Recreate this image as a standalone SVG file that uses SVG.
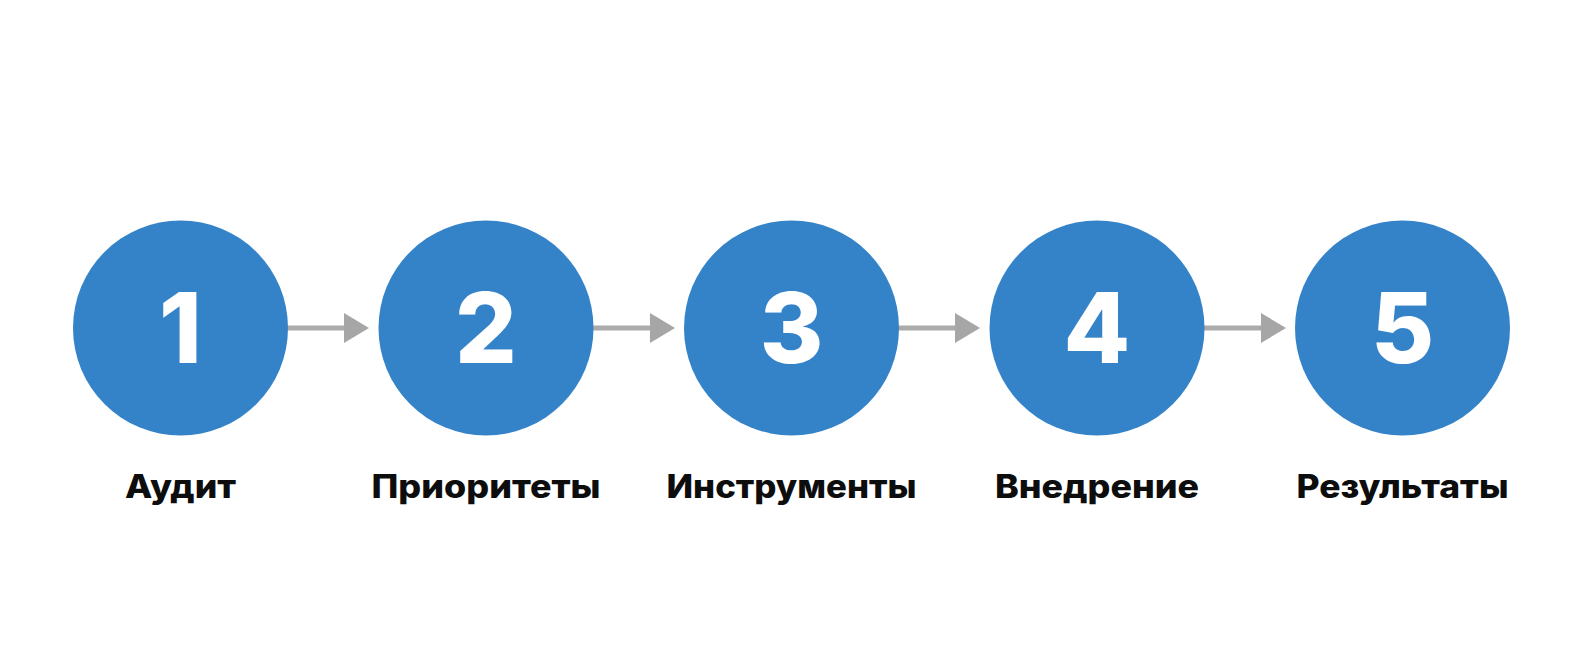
<svg xmlns="http://www.w3.org/2000/svg" width="1584" height="672" viewBox="0 0 1584 672">
<style>
.node circle{fill:#3483C9}
.num{font-family:Inter,"Liberation Sans","DejaVu Sans",sans-serif;font-weight:800;font-size:97px;fill:#fff;text-anchor:middle}
.lbl{font-family:Inter,"Liberation Sans","DejaVu Sans",sans-serif;font-weight:800;font-size:32px;fill:#0d0d0d;text-anchor:middle}
.conn line{stroke:#ababab;stroke-width:5}
.conn polygon{fill:#a6a6a6}
</style>
<rect width="1584" height="672" fill="#fff"/>
<g id="connectors" class="conn">
<line x1="287" y1="328" x2="346" y2="328"/><polygon points="344,313 369,328 344,343"/>
<line x1="593" y1="328" x2="652" y2="328"/><polygon points="650,313 675,328 650,343"/>
<line x1="898" y1="328" x2="957" y2="328"/><polygon points="955,313 980,328 955,343"/>
<line x1="1204" y1="328" x2="1263" y2="328"/><polygon points="1261,313 1286,328 1261,343"/>
</g>
<g id="node1" class="node"><circle cx="180.5" cy="328" r="107.5"/><text class="num" x="180.5" y="363">1</text><text class="lbl" x="180.5" y="498" textLength="111" lengthAdjust="spacingAndGlyphs">Аудит</text></g>
<g id="node2" class="node"><circle cx="486" cy="328" r="107.5"/><text class="num" x="486" y="363">2</text><text class="lbl" x="486" y="498" textLength="229" lengthAdjust="spacingAndGlyphs">Приоритеты</text></g>
<g id="node3" class="node"><circle cx="791.5" cy="328" r="107.5"/><text class="num" x="791.5" y="363">3</text><text class="lbl" x="791.5" y="498" textLength="250" lengthAdjust="spacingAndGlyphs">Инструменты</text></g>
<g id="node4" class="node"><circle cx="1097" cy="328" r="107.5"/><text class="num" x="1097" y="363">4</text><text class="lbl" x="1097" y="498" textLength="204" lengthAdjust="spacingAndGlyphs">Внедрение</text></g>
<g id="node5" class="node"><circle cx="1402.5" cy="328" r="107.5"/><text class="num" x="1402.5" y="363">5</text><text class="lbl" x="1402.5" y="498" textLength="212" lengthAdjust="spacingAndGlyphs">Результаты</text></g>
</svg>
